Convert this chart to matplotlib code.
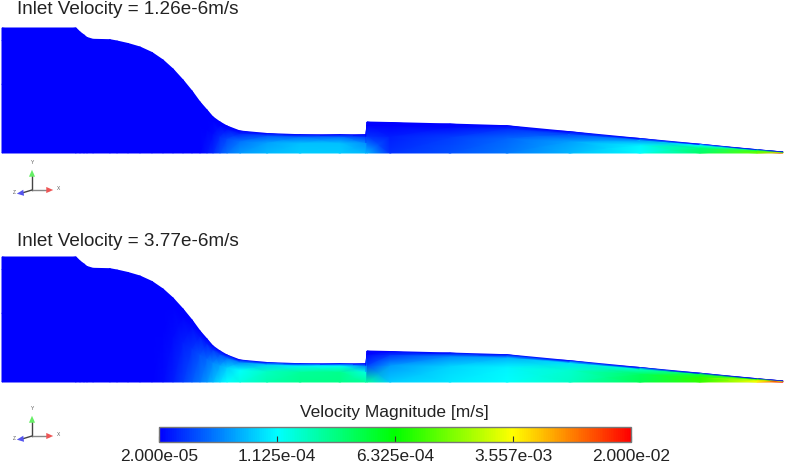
import numpy as np
import matplotlib
matplotlib.use("Agg")
import matplotlib.pyplot as plt
from matplotlib.colors import LinearSegmentedColormap, Normalize
from matplotlib.cm import ScalarMappable

plt.rcParams['font.family'] = ['Liberation Sans', 'DejaVu Sans']

# stations along the channel and wall height above the centreline (pixels)
stations = [2, 76, 80, 84, 87, 93, 110, 117, 128, 140, 152, 163, 173, 183, 192, 200, 207, 213,
            220, 227, 240, 267, 300, 340, 366, 367, 390, 450, 507, 570, 640, 700, 757, 783]
wall = [125, 125, 121, 118, 115.5, 113.7, 113.3, 112, 109.5, 106, 100.5, 93, 84, 73, 62, 51, 43, 36,
        31, 27, 22, 19.5, 18.3, 18.3, 18.3, 31, 30.5, 29, 27.3, 21.3, 14.5, 8.8, 3.3, 1]

# colour bar fraction at 0, 55 and 90 % of the local height
top_low = [0] * 15 + [0, .02, .04, .08, .11, .15, .18, .2, .2, .18, .18, .05, .08, .12, .18, .25, .4, .6, .85]
top_mid = [0] * 15 + [0, 0, .01, .04, .07, .11, .16, .19, .19, .14, .05, .03, .06, .1, .16, .24, .38, .58, .8]
top_upp = [0] * 15 + [0, 0, 0, 0, .01, .03, .08, .1, .1, .05, 0, 0, .01, .04, .07, .14, .25, .4, .6]

bot_low = [0] * 11 + [.01, .03, .06, .09, .12, .15, .18, .22, .25, .28, .33, .36, .37, .35, .35, .2, .23, .25,
                      .31, .42, .55, .75, 1]
bot_mid = [0] * 11 + [0, .01, .03, .05, .08, .1, .13, .16, .2, .25, .31, .35, .36, .28, .06, .15, .21, .24,
                      .3, .41, .54, .73, .97]
bot_upp = [0] * 11 + [0, 0, 0, .01, .02, .03, .05, .07, .1, .13, .2, .24, .25, .12, 0, .05, .13, .17,
                      .22, .3, .42, .55, .8]

height_rows = [0, .55, .9, 1]

bar_ticks = [0, .25, .5, .75, 1]
bar_labels = ['2.000e-05', '1.125e-04', '6.325e-04', '3.557e-03', '2.000e-02']

jet5 = LinearSegmentedColormap.from_list(
    'fluent', ['#0000ff', '#00ffff', '#00ff00', '#ffff00', '#ff0000'])
ink = '#222222'

fig = plt.figure(figsize=(7.87, 4.66), dpi=100)
ax = fig.add_axes([0, 0, 1, 1])
ax.set_xlim(0, 787)
ax.set_ylim(466, 0)
ax.axis('off')


def draw_panel(base, low, mid, upp, title, title_y):
    X = np.tile(stations, (4, 1))
    H = np.array(wall)
    Y = base - np.outer(height_rows, H)
    C = np.array([low, mid, upp, [0] * len(stations)])
    ax.pcolormesh(X, Y, C, shading='gouraud', cmap=jet5, vmin=0, vmax=1)
    ax.text(17, title_y, title, fontsize=13.6, color=ink, va='center', ha='left')


def draw_triad(x0, y0):
    ax.plot([x0, x0], [y0, y0 - 16], color='#444444', lw=1)
    ax.plot([x0, x0 + 17], [y0, y0], color='#888888', lw=1)
    ax.plot([x0, x0 - 10], [y0, y0 + 3], color='#444444', lw=1)
    head = dict(arrowstyle='-|>,head_width=.22,head_length=.5', lw=0)
    ax.annotate('', xy=(x0, y0 - 23), xytext=(x0, y0 - 15), arrowprops=dict(head, color='#66ee66'))
    ax.annotate('', xy=(x0 + 24, y0), xytext=(x0 + 16, y0), arrowprops=dict(head, color='#ee5555'))
    ax.annotate('', xy=(x0 - 18, y0 + 4), xytext=(x0 - 10, y0 + 3), arrowprops=dict(head, color='#5555ee'))
    ax.text(x0 + 27, y0 - 2, 'X', fontsize=3.5, color='#555555', ha='center', va='center')
    ax.text(x0 + 1, y0 - 28, 'Y', fontsize=3.5, color='#555555', ha='center', va='center')
    ax.text(x0 - 18, y0 + 3, 'Z', fontsize=3.5, color='#555555', ha='center', va='center')


draw_panel(153, top_low, top_mid, top_upp, 'Inlet Velocity = 1.26e-6m/s', 10)
draw_panel(382, bot_low, bot_mid, bot_upp, 'Inlet Velocity = 3.77e-6m/s', 241)
draw_triad(32, 190)
draw_triad(32, 436)

# colour bar
ax.text(394.5, 412, 'Velocity Magnitude [m/s]', fontsize=12.5, color=ink, ha='center', va='center')
cax = fig.add_axes([159 / 787, 1 - 442 / 466, 472 / 787, 15 / 466])
sm = ScalarMappable(norm=Normalize(0, 1), cmap=jet5)
cb = fig.colorbar(sm, cax=cax, orientation='horizontal', ticks=bar_ticks)
cb.ax.set_xticklabels(bar_labels, fontsize=12.5, color=ink)
cb.ax.tick_params(direction='in', length=4, width=.8, color='#333333', pad=5)
cb.outline.set_edgecolor('#777777')
cb.outline.set_linewidth(1)

plt.savefig('out.png', dpi=100)
